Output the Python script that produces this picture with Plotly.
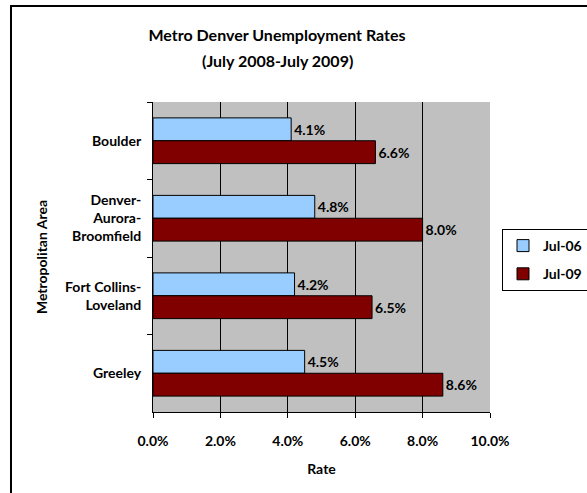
import plotly.graph_objects as go

categories = ["Boulder", "Denver-<br>Aurora-<br>Broomfield", "Fort Collins-<br>Loveland", "Greeley"]
series_names = ["Jul-06", "Jul-09"]
jul08 = [4.1, 4.8, 4.2, 4.5]
jul09 = [6.6, 8.0, 6.5, 8.6]
colors = ["#99CCFF", "#800000"]

FONT = "Lato"
W, H = 587, 493
L, R, T, B = 153, 97, 102, 81

fig = go.Figure()
for name, vals, col in zip(series_names, [jul08, jul09], colors):
    fig.add_trace(go.Bar(
        y=categories, x=vals, name=name, orientation="h",
        marker=dict(color=col, line=dict(color="#000000", width=1)),
        text=[f"{v:.1f}%" for v in vals], textposition="outside",
        textfont=dict(family=FONT, size=14, color="#000000", weight="bold"),
        cliponaxis=False, legendgroup=name,
    ))

pw, ph = W - L - R, H - T - B
def px_x(p):
    return (p - L) / pw
def px_y(p):
    return (H - B - p) / ph

fig.update_layout(
    width=W, height=H,
    margin=dict(l=L, r=R, t=T, b=B, autoexpand=False),
    paper_bgcolor="#FFFFFF", plot_bgcolor="#C0C0C0",
    barmode="group", bargap=0.41, bargroupgap=0,
    font=dict(family=FONT, size=14, color="#000000"),
    title=dict(text="<b>Metro Denver Unemployment Rates</b>", x=277 / W, xanchor="center",
               y=1 - 35 / H, yanchor="middle", yref="container",
               font=dict(family=FONT, size=16, color="#000000")),
    showlegend=True,
    legend=dict(x=px_x(502), xanchor="left", y=px_y(229), yanchor="top",
                bgcolor="#FFFFFF", bordercolor="#000000", borderwidth=1,
                font=dict(family=FONT, size=14, color="#000000", weight="bold"),
                tracegroupgap=7),
    xaxis=dict(range=[0, 10], dtick=2, tickformat=".1f", ticksuffix="%",
               showgrid=True, gridcolor="#000000", gridwidth=1,
               showline=True, linecolor="#000000", linewidth=1,
               ticks="outside", ticklen=5, tickcolor="#000000",
               zeroline=False, ticklabelstandoff=11,
               tickfont=dict(family=FONT, size=14, weight="bold"),
               title=dict(text="<b>Rate</b>", standoff=16,
                          font=dict(family=FONT, size=14))),
    yaxis=dict(autorange="reversed", showline=True, linecolor="#000000", linewidth=1,
               ticks="outside", ticklen=5, tickcolor="#000000", tickson="boundaries",
               showgrid=False, ticklabelstandoff=8,
               tickfont=dict(family=FONT, size=14, weight="bold"),
               title=dict(text="<b>Metropolitan Area</b>", standoff=14,
                          font=dict(family=FONT, size=14))),
    annotations=[dict(text="<b>(July 2008-July 2009)</b>", xref="paper", yref="paper",
                      x=px_x(277), y=px_y(61), xanchor="center", yanchor="middle",
                      showarrow=False, font=dict(family=FONT, size=16, color="#000000"))],
    shapes=[dict(type="rect", xref="paper", yref="paper",
                 x0=px_x(11), x1=px_x(W + 20), y0=px_y(H + 20), y1=px_y(6),
                 line=dict(color="#000000", width=2), layer="below")],
)

fig.write_html("out.html")
